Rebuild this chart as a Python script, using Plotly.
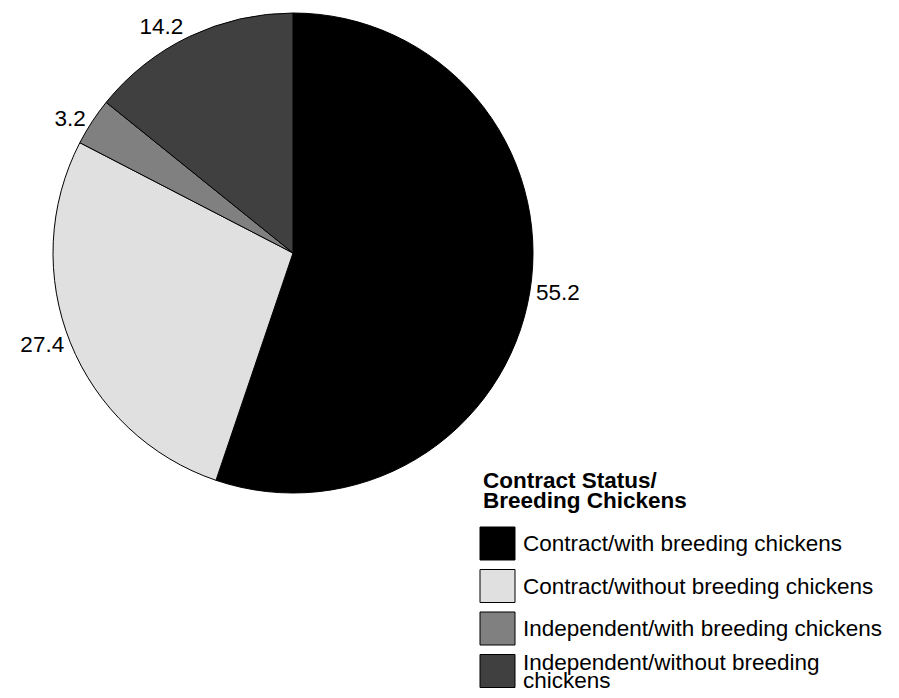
import plotly.graph_objects as go

categories = [
    "Contract/with breeding chickens",
    "Contract/without breeding chickens",
    "Independent/with breeding chickens",
    "Independent/without breeding<br>chickens",
]
values = [55.2, 27.4, 3.2, 14.2]
colors = ["#000000", "#e0e0e0", "#808080", "#404040"]
legend_title = ["Contract Status/", "Breeding Chickens"]

# page has an 8px body margin; size the figure so it fits the 899x698 window
OFF = 8
W, H = 899 - OFF, 698 - OFF
FONT = "Liberation Sans, Arial, sans-serif"
FS = 22.5

def px(x):
    return (x - OFF) / W

def py(y):
    return 1 - (y - OFF) / H

cx, cy, r = 293, 253, 240

fig = go.Figure()
fig.add_trace(go.Pie(
    labels=[c.replace("<br>", " ") for c in categories],
    values=values,
    sort=False,
    direction="clockwise",
    rotation=0,
    marker=dict(colors=colors, line=dict(color="#000000", width=1)),
    texttemplate="%{value:.1f}",
    textposition="outside",
    outsidetextfont=dict(size=FS, color="#000000", family=FONT),
    showlegend=False,
    hoverinfo="label+value",
    domain=dict(x=[px(cx - r), px(cx + r)], y=[py(cy + r), py(cy - r)]),
))

annotations = []
shapes = []
# legend title
for i, line in enumerate(legend_title):
    annotations.append(dict(
        x=px(481), y=py(480 + i * 20), xref="paper", yref="paper",
        text="<b>" + line + "</b>", showarrow=False, xanchor="left", yanchor="middle",
        font=dict(size=FS, color="#000000", family=FONT),
    ))
# legend items
for i, (cat, col) in enumerate(zip(categories, colors)):
    top = 527 + i * 42.5
    shapes.append(dict(
        type="rect", xref="paper", yref="paper",
        x0=px(480), x1=px(515), y0=py(top), y1=py(top + 33),
        fillcolor=col, line=dict(color="#000000", width=1),
    ))
    lines = cat.split("<br>")
    n = len(lines)
    center = top + 16.5
    for j, ln in enumerate(lines):
        yline = center + (j - (n - 1) / 2) * 18
        annotations.append(dict(
            x=px(521), y=py(yline), xref="paper", yref="paper",
            text=ln, showarrow=False, xanchor="left", yanchor="middle",
            font=dict(size=FS, color="#000000", family=FONT),
        ))

fig.update_layout(
    width=W, height=H,
    margin=dict(l=0, r=0, t=0, b=0),
    paper_bgcolor="#ffffff",
    plot_bgcolor="#ffffff",
    annotations=annotations,
    shapes=shapes,
    font=dict(family=FONT, color="#000000"),
)

fig.write_html("out.html")
